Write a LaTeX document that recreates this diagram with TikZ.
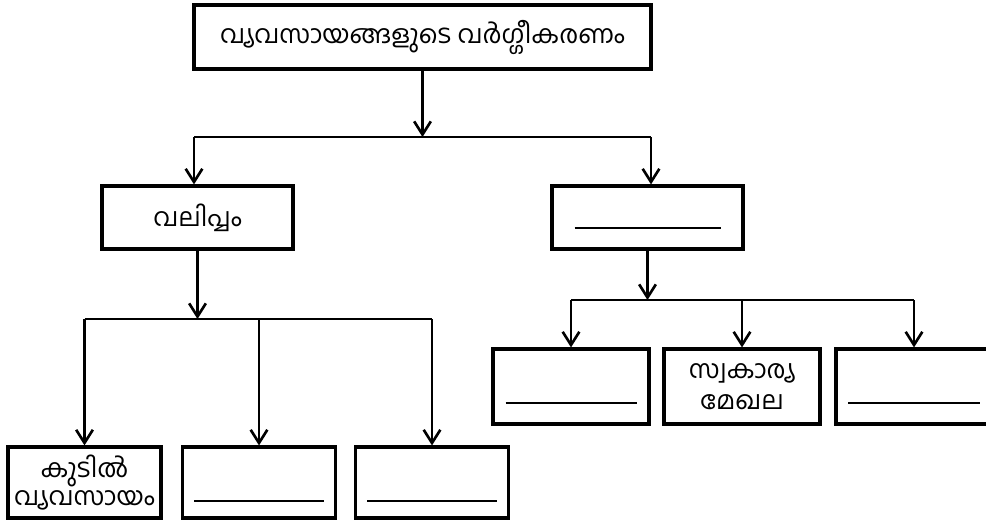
\documentclass[tikz,border=0pt]{standalone}
\usepackage{fontspec}
\newfontfamily\malfont[Script=Malayalam]{Hind Kochi}
\usetikzlibrary{arrows.meta}

\begin{document}
\begin{tikzpicture}[x=0.2mm, y=-0.2mm,
    boite/.style={draw, line width=1.8pt, align=center, inner sep=0pt,
        font=\malfont\fontsize{14.5}{18}\selectfont},
    trait/.style={line width=1.5pt},
    fleche/.style={trait, -{Straight Barb[length=7.5pt, width=9.5pt]}}]

\useasboundingbox (0,0) rectangle (986,520);

% Les boites
\node[boite, minimum width=91.4mm, minimum height=12.8mm] (titre) at (422.5,37) {വ്യവസായങ്ങളുടെ വർഗ്ഗീകരണം};
\node[boite, minimum width=38.2mm, minimum height=12.6mm] (taille) at (197.5,217.5) {വലിപ്പം};
\node[boite, minimum width=38.2mm, minimum height=12.6mm] (prop) at (647.5,217.5) {};

\node[boite, minimum width=30.6mm, minimum height=14.2mm, font=\malfont\fontsize{14.5}{16}\selectfont] (kudil) at (84.5,482.5) {കുടിൽ\\വ്യവസായം};
\node[boite, minimum width=30.6mm, minimum height=14.2mm] (tb) at (259,482.5) {};
\node[boite, minimum width=30.6mm, minimum height=14.2mm] (tc) at (432,482.5) {};

\node[boite, minimum width=31.2mm, minimum height=15mm] (pa) at (571,386.5) {};
\node[boite, minimum width=31.2mm, minimum height=15mm] (prive) at (742,386.5) {സ്വകാര്യ\\മേഖല};
\node[boite, minimum width=31.2mm, minimum height=15mm] (pc) at (914,386.5) {};

% Les points de jonction
\coordinate (jt) at (422.5,137);
\coordinate (jg) at (194,137);
\coordinate (jd) at (651,137);
\coordinate (jb) at (197.5,319);
\coordinate (jp) at (647.5,300);

% Premier niveau
\draw[fleche] (titre.south) -- (jt);
\draw[trait] (jg) -- (jd);
\draw[fleche] (jg) -- (jg |- taille.north);
\draw[fleche] (jd) -- (jd |- prop.north);

% Branche gauche
\draw[fleche] (taille.south) -- (jb);
\draw[trait] (kudil.north |- jb) -- (tc.north |- jb);
\draw[fleche] (kudil.north |- jb) -- (kudil.north);
\draw[fleche] (tb.north |- jb) -- (tb.north);
\draw[fleche] (tc.north |- jb) -- (tc.north);

% Branche droite
\draw[fleche] (prop.south) -- (jp);
\draw[trait] (pa.north |- jp) -- (pc.north |- jp);
\draw[fleche] (pa.north |- jp) -- (pa.north);
\draw[fleche] (prive.north |- jp) -- (prive.north);
\draw[fleche] (pc.north |- jp) -- (pc.north);

% Les blancs a remplir
\draw[trait] ([shift={(-73,10.5)}]prop.center) -- ([shift={(73,10.5)}]prop.center);
\draw[trait] ([shift={(-65,18.5)}]tb.center) -- ([shift={(65,18.5)}]tb.center);
\draw[trait] ([shift={(-65,18.5)}]tc.center) -- ([shift={(65,18.5)}]tc.center);
\draw[trait] ([shift={(-65.5,16.5)}]pa.center) -- ([shift={(65.5,16.5)}]pa.center);
\draw[trait] ([shift={(-66,16.5)}]pc.center) -- ([shift={(66,16.5)}]pc.center);

\end{tikzpicture}
\end{document}
